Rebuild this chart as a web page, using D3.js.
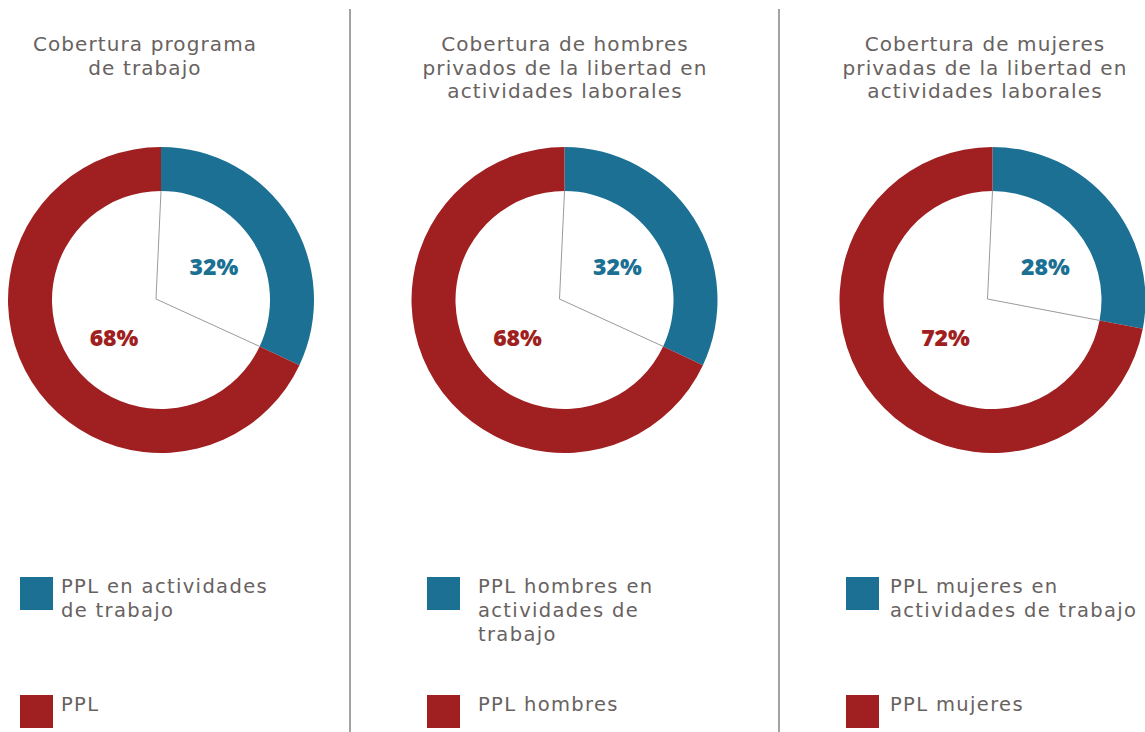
<!DOCTYPE html>
<html>
<head>
<meta charset="utf-8">
<script src="https://cdn.jsdelivr.net/npm/d3@7"></script>
<style>
  body { margin: 0; background: #fff; }
  svg { display: block; }
  .title { font-family: "DejaVu Sans", sans-serif; fill: #68625f; font-size: 20px; letter-spacing: 1.1px; }
  .legend-text { font-family: "DejaVu Sans", sans-serif; fill: #68625f; font-size: 19.5px; letter-spacing: 1.35px; }
  .pct { font-family: "Open Sans", sans-serif; font-weight: 800; font-size: 23px; }
</style>
</head>
<body>
<svg id="chart" width="1145" height="732"></svg>
<script>
// ---- data ------------------------------------------------------------------
const titles = [
  ['Cobertura programa', 'de trabajo'],
  ['Cobertura de hombres', 'privados de la libertad en', 'actividades laborales'],
  ['Cobertura de mujeres', 'privadas de la libertad en', 'actividades laborales']
];
const workingPct = [32, 32, 28];
const otherPct   = [68, 68, 72];
const legendWorking = [
  ['PPL en actividades', 'de trabajo'],
  ['PPL hombres en', 'actividades de', 'trabajo'],
  ['PPL mujeres en', 'actividades de trabajo']
];
const legendOther = [['PPL'], ['PPL hombres'], ['PPL mujeres']];
const colors = ['#1b7093', '#a01f21'];

// ---- layout ----------------------------------------------------------------
const svg = d3.select('#chart');
const centersX = [161, 564.5, 992.5];
const titleX   = [145, 565, 985];
const legendX  = [20, 427, 846];
const legendTextX = [61, 478, 890];
const separators = [350, 779];
const cy = 300, rOuter = 153, rInner = 109;

separators.forEach(x => {
  svg.append('line').attr('x1', x).attr('x2', x).attr('y1', 9).attr('y2', 732)
    .attr('stroke', '#a3a3a3').attr('stroke-width', 2);
});

const pie  = d3.pie().sort(null).value(d => d);
const arc  = d3.arc().innerRadius(rInner).outerRadius(rOuter);
const labelOffsets = [[53, -33], [-47, 38]];

titles.forEach((lines, i) => {
  const cx = centersX[i];

  // title
  const t = svg.append('text').attr('class', 'title').attr('text-anchor', 'middle');
  lines.forEach((l, j) => {
    t.append('tspan').attr('x', titleX[i]).attr('y', 51 + j * 23.5).text(l);
  });

  // donut
  const slices = pie([workingPct[i], otherPct[i]]);
  const g = svg.append('g').attr('transform', `translate(${cx},${cy})`);
  g.selectAll('path').data(slices).enter().append('path')
    .attr('d', arc).attr('fill', (d, k) => colors[k]);

  // thin separator lines inside the ring (from a slightly offset hub)
  const hub = [-5, -1];
  slices.forEach(s => {
    const a = s.startAngle;
    g.append('line')
      .attr('x1', hub[0]).attr('y1', hub[1])
      .attr('x2', rInner * Math.sin(a)).attr('y2', -rInner * Math.cos(a))
      .attr('stroke', '#9a9a9a').attr('stroke-width', 1);
  });

  // percentage labels
  slices.forEach((s, k) => {
    g.append('text').attr('class', 'pct')
      .attr('x', labelOffsets[k][0]).attr('y', labelOffsets[k][1])
      .attr('dy', '0.36em').attr('text-anchor', 'middle')
      .attr('fill', colors[k]).text(s.data + '%');
  });

  // legend
  [[legendWorking[i], 577], [legendOther[i], 695]].forEach(([lab, y], k) => {
    svg.append('rect').attr('x', legendX[i]).attr('y', y)
      .attr('width', 33).attr('height', 33).attr('fill', colors[k]);
    const lt = svg.append('text').attr('class', 'legend-text');
    lab.forEach((l, j) => {
      lt.append('tspan').attr('x', legendTextX[i])
        .attr('y', y + 16 + j * 24).text(l);
    });
  });
});
</script>
</body>
</html>
